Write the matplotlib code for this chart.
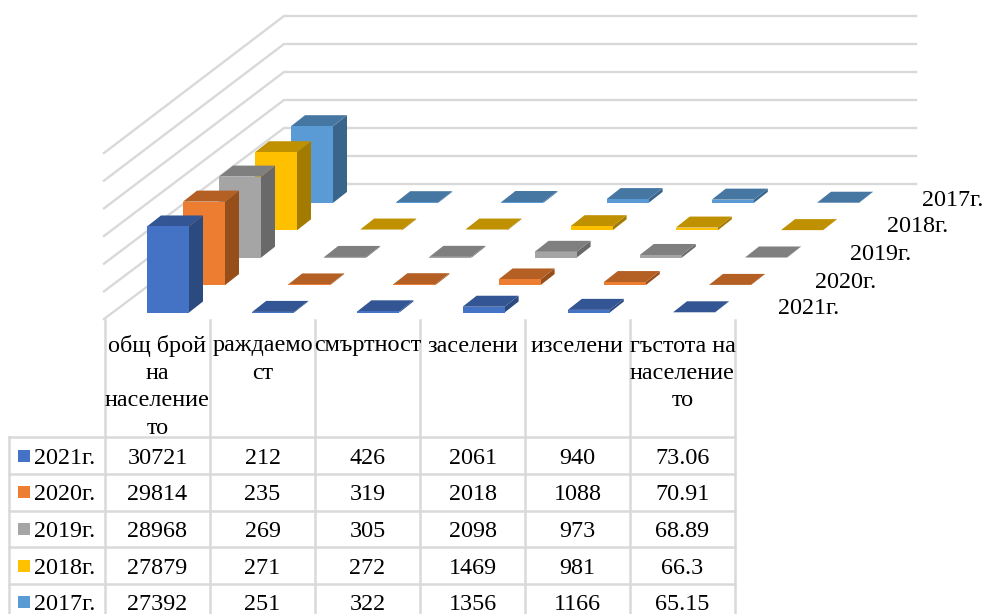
import matplotlib
matplotlib.use("Agg")
import matplotlib.pyplot as plt
from matplotlib.patches import Polygon, Rectangle

plt.rcParams['font.family'] = ['Liberation Serif', 'DejaVu Serif']

years = ["2021г.", "2020г.", "2019г.", "2018г.", "2017г."]
categories = [
    ["общ брой", "на", "население", "то"],
    ["раждаемо", "ст"],
    ["смъртност"],
    ["заселени"],
    ["изселени"],
    ["гъстота на", "население", "то"],
]
v2021 = [30721, 212, 426, 2061, 940, 73.06]
v2020 = [29814, 235, 319, 2018, 1088, 70.91]
v2019 = [28968, 269, 305, 2098, 973, 68.89]
v2018 = [27879, 271, 272, 1469, 981, 66.3]
v2017 = [27392, 251, 322, 1356, 1166, 65.15]
series = [v2021, v2020, v2019, v2018, v2017]
labels = [
    ["30721", "212", "426", "2061", "940", "73.06"],
    ["29814", "235", "319", "2018", "1088", "70.91"],
    ["28968", "269", "305", "2098", "973", "68.89"],
    ["27879", "271", "272", "1469", "981", "66.3"],
    ["27392", "251", "322", "1356", "1166", "65.15"],
]
axis_ticks = [0, 10000, 20000, 30000, 40000, 50000, 60000]

front = ["#4472C4", "#ED7D31", "#A5A5A5", "#FFC000", "#5B9BD5"]
top = ["#335593", "#B46024", "#7F7F7F", "#BF9000", "#4677A3"]
side = ["#2A4A80", "#964F1B", "#696969", "#A37B00", "#3A658B"]
edge = ["#8FAADC", "#F4B183", "#C9C9C9", "#FFD966", "#9DC3E6"]
GRID = "#D9D9D9"

# oblique projection of (column, row, value) to figure pixels
X0, Y0 = 147.0, 312.5
COL_DX = 105.2
ROW_DX, ROW_DY = 36.0, -27.4
BAR_W, DEP_X, DEP_Y = 42.0, 14.0, -11.0
PX_PER_UNIT = 28.0 / 10000
FS = 17.4


def proj(col, row, value=0.0):
    return (X0 + COL_DX * col + ROW_DX * row,
            Y0 + ROW_DY * row - PX_PER_UNIT * value)


fig = plt.figure(figsize=(9.89, 6.14), dpi=100)
ax = fig.add_axes([0, 0, 1, 1])
ax.set_xlim(0, 989)
ax.set_ylim(614, 0)
ax.axis("off")

# walls
WALL_L, WALL_B, WALL_R = 104.0, 284.0, 916.0
for t in axis_ticks:
    yb = 184 - t * PX_PER_UNIT
    yl = 319 - t * PX_PER_UNIT * (166 / 168)
    ax.plot([WALL_L, WALL_B, WALL_R], [yl, yb, yb], color=GRID, lw=1.7,
            solid_joinstyle="miter", zorder=1)

# bars, back row first
for row in range(len(series) - 1, -1, -1):
    for col, val in enumerate(series[row]):
        x, y0 = proj(col, row)
        _, y1 = proj(col, row, val)
        z = 2 + (len(series) - row)
        ax.add_patch(Polygon([(x + BAR_W, y0), (x + BAR_W + DEP_X, y0 + DEP_Y),
                              (x + BAR_W + DEP_X, y1 + DEP_Y), (x + BAR_W, y1)],
                             fc=side[row], ec="none", zorder=z))
        ax.add_patch(Polygon([(x, y1), (x + BAR_W, y1),
                              (x + BAR_W + DEP_X, y1 + DEP_Y), (x + DEP_X, y1 + DEP_Y)],
                             fc=top[row], ec="none", zorder=z))
        if y0 - y1 > 0.5:
            ax.add_patch(Rectangle((x, y1), BAR_W, y0 - y1, fc=front[row],
                                   ec="none", zorder=z))

# series labels
lab_x = [778, 815, 850, 887, 922]
lab_y = [309, 283, 255, 227, 200]
for name, lx, ly in zip(years, lab_x, lab_y):
    ax.text(lx, ly, name, fontsize=FS, ha="left", va="center", color="black")

# data table
col_edges = [105, 210, 315, 420, 525, 630, 735]
row_edges = [437, 473.7, 510.5, 547, 584]
TABLE_L = 9
for xv in col_edges:
    ax.plot([xv, xv], [320, 614], color=GRID, lw=1.8, zorder=1)
for yv in row_edges:
    ax.plot([TABLE_L, col_edges[-1]], [yv, yv], color=GRID, lw=1.8, zorder=1)
ax.plot([TABLE_L, TABLE_L], [row_edges[0], 614], color=GRID, lw=1.8, zorder=1)

for c, lines in enumerate(categories):
    cx = (col_edges[c] + col_edges[c + 1]) / 2
    for i, line in enumerate(lines):
        ax.text(cx, 346 + i * 27.4, line, fontsize=FS, ha="center", va="center")

for r, name in enumerate(years):
    cy = (row_edges[0] + 36.7 * r) + 21
    ax.add_patch(Rectangle((18, cy - 8.5), 12, 12, fc=front[r], ec="none", zorder=3))
    ax.text(34, cy, name, fontsize=FS, ha="left", va="center")
    for c, txt in enumerate(labels[r]):
        cx = (col_edges[c] + col_edges[c + 1]) / 2
        ax.text(cx, cy, txt, fontsize=FS, ha="center", va="center")

fig.savefig("out.png", dpi=100)
